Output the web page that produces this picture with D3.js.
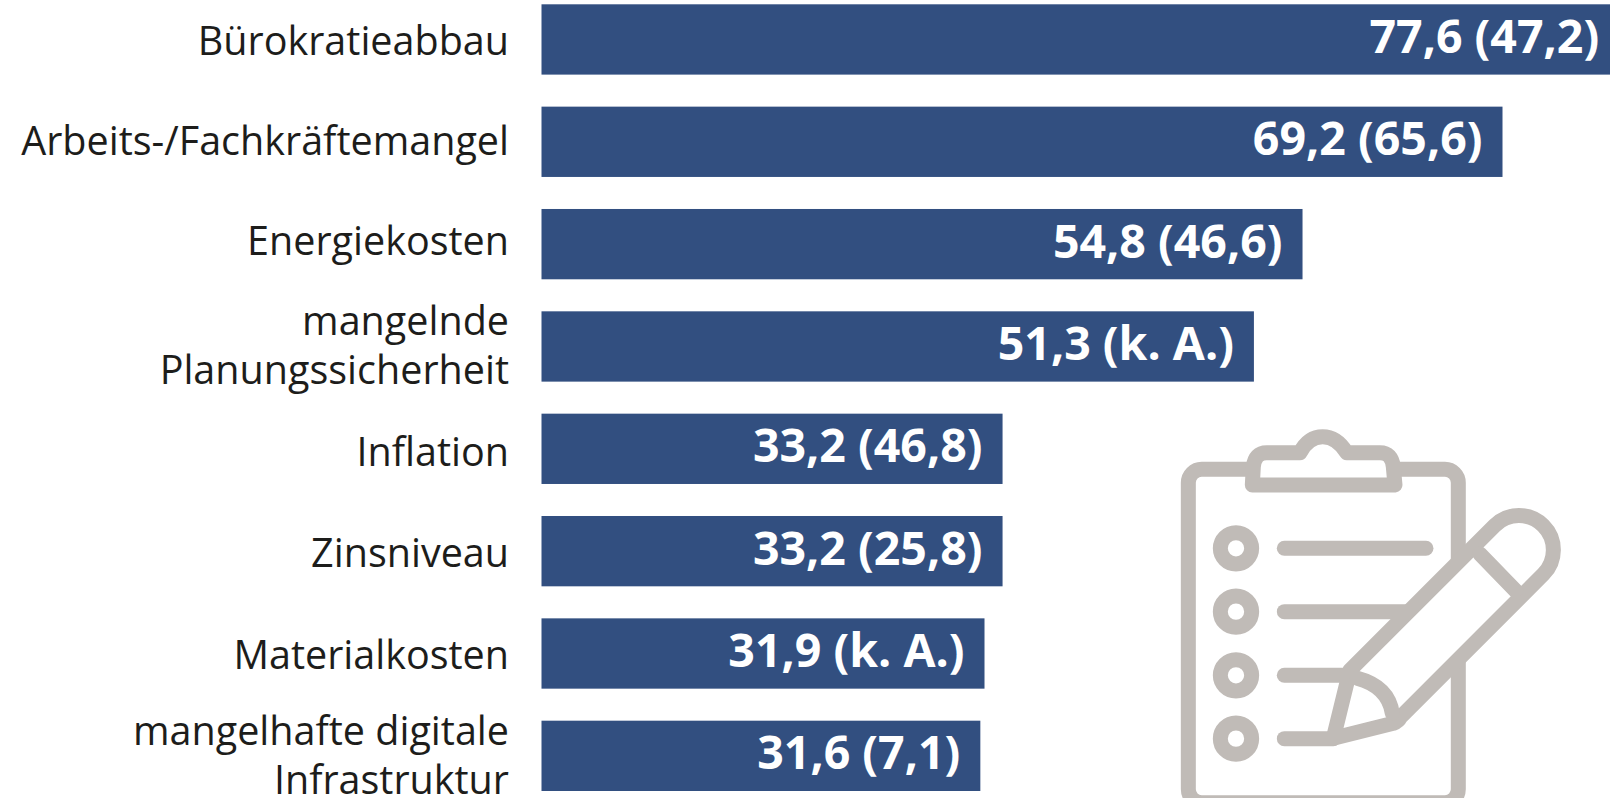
<!DOCTYPE html>
<html><head><meta charset="utf-8">
<script src="https://cdn.jsdelivr.net/npm/d3@7/dist/d3.min.js"></script>
<style>html,body{margin:0;padding:0;background:#fff;overflow:hidden}svg{display:block}</style>
</head><body>
<svg id="c" width="1610" height="798"></svg>
<script>
const categories = [["Bürokratieabbau"],["Arbeits-/Fachkräftemangel"],["Energiekosten"],["mangelnde","Planungssicherheit"],["Inflation"],["Zinsniveau"],["Materialkosten"],["mangelhafte digitale","Infrastruktur"]];
const values = [77.6,69.2,54.8,51.3,33.2,33.2,31.9,31.6];
const previous = ["47,2","65,6","46,6","k. A.","46,8","25,8","k. A.","7,1"];

const labelNudge = [15.6,13.3,11,13,17.4,16,15.8,14]; // layout: baseline offset below bar centre

const svg = d3.select("#c");
const x = d3.scaleLinear().domain([0,69.2]).range([541.5,1502.5]);
const y = d3.scaleBand().domain(d3.range(values.length)).range([4.3,791]).paddingInner(0.313).paddingOuter(0);
const fmt = v => v.toFixed(1).replace(".",",");
const FF = "'Open Sans','Noto Sans',sans-serif";

svg.selectAll("rect.bar").data(values).join("rect").attr("class","bar")
  .attr("x",x(0)).attr("y",(d,i)=>y(i)).attr("height",y.bandwidth())
  .attr("width",d=>x(d)-x(0)).attr("fill","#324f80");

svg.selectAll("text.val").data(values).join("text").attr("class","val")
  .attr("x",d=>x(d)-20).attr("y",(d,i)=>y(i)+y.bandwidth()/2+13.5)
  .attr("text-anchor","end").attr("fill","#fff").attr("font-family",FF)
  .attr("font-weight",700).attr("font-size",46.5)
  .text((d,i)=>`${fmt(d)} (${previous[i]})`);

const lab = svg.selectAll("text.lab").data(categories).join("text").attr("class","lab")
  .attr("text-anchor","end").attr("fill","#1d1d1b").attr("font-family",FF)
  .attr("font-size",39.5);
lab.each(function(lines,i){
  const base = y(i)+y.bandwidth()/2+labelNudge[i];
  const t = d3.select(this);
  lines.forEach((l,k)=>{
    t.append("tspan").attr("x",509)
     .attr("y",base+(k-(lines.length-1)/2)*49)
     .text(l);
  });
});

// clipboard icon (decorative)
const ic = svg.append("g").attr("transform","translate(1150,410) scale(0.3333)")
  .attr("fill","none").attr("stroke","#c0bbb7").attr("stroke-width",45).attr("stroke-linecap","round").attr("stroke-linejoin","round");
ic.append("rect").attr("x",115).attr("y",178).attr("width",810).attr("height",1000).attr("rx",40);
ic.append("path").attr("fill","#fff")
  .attr("d","M307,225 L310,170 Q315,128 350,128 L450,128 Q475,80 518,80 Q561,80 590,128 L690,128 Q725,128 730,170 L735,225 Z");
[415,605,796,986].forEach(cy=>ic.append("circle").attr("cx",258).attr("cy",cy).attr("r",47));
[[415,828],[605,770],[796,600],[986,550]].forEach(([yy,x2])=>ic.append("line").attr("x1",403).attr("x2",x2).attr("y1",yy).attr("y2",yy));
ic.append("path").attr("fill","#fff")
  .attr("d","M600,781 L1034,347 A103,103 0 0 1 1180,493 L752,921 Q745,935 730,940 L550,985 Z");
ic.append("path").attr("d","M990,432 L1097,542");
ic.append("path").attr("d","M622,805 Q715,830 727,910");
</script>
</body></html>
